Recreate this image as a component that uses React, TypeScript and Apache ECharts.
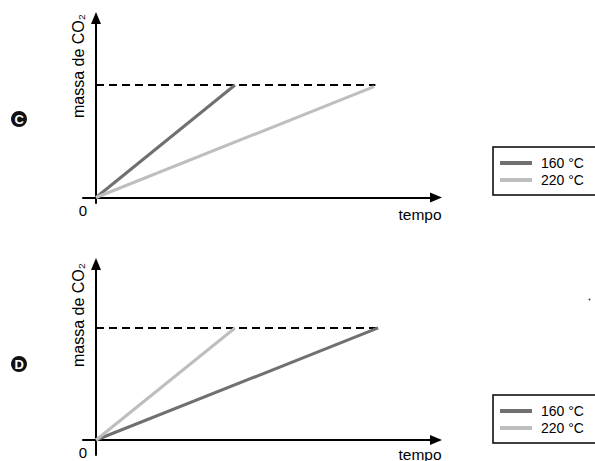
import React, { useEffect, useRef } from "react";
import * as echarts from "echarts";

const seriesNames = ["160 °C", "220 °C"];
const seriesColors = ["#707070", "#bebebe"];
const panelLabels = ["C", "D"];
const yAxisTitle = "massa de CO₂";
const xAxisTitle = "tempo";
const originLabel = "0";

// [tempo, massa de CO2] — panel C
const panelC160 = [[0, 0], [5, 10]];
const panelC220 = [[0, 0], [10, 9.85]];
const panelCPlateau = [[0, 10], [10.05, 10]];
// panel D
const panelD160 = [[0, 0], [10.15, 10]];
const panelD220 = [[0, 0], [5, 10]];
const panelDPlateau = [[0, 10], [10.15, 10]];

const xRange = [-0.468, 12.23];
const yRangeC = [-0.49, 15.96];
const yRangeD = [-1.34, 15.71];

const FONT = "'Liberation Sans', Arial, Helvetica, sans-serif";

function axisLine() {
  return {
    onZero: true,
    lineStyle: { color: "#000", width: 2 },
    symbol: ["none", "triangle"],
    symbolSize: [10, 12],
  };
}

function xAxis(gridIndex: number) {
  return {
    type: "value",
    gridIndex,
    min: xRange[0],
    max: xRange[1],
    axisLine: axisLine(),
    axisTick: { show: false },
    axisLabel: { show: false },
    splitLine: { show: false },
  };
}

function yAxis(gridIndex: number, r: number[]) {
  return {
    type: "value",
    gridIndex,
    min: r[0],
    max: r[1],
    axisLine: axisLine(),
    axisTick: { show: false },
    axisLabel: { show: false },
    splitLine: { show: false },
  };
}

function lineSeries(name: string, color: string, data: number[][], idx: number, width = 3, dashed = false) {
  return {
    type: "line",
    name,
    xAxisIndex: idx,
    yAxisIndex: idx,
    data,
    symbol: "none",
    color,
    silent: true,
    lineStyle: { color, width, type: dashed ? [8, 5] : "solid" },
    z: dashed ? 1 : 3,
  };
}

function legend(top: number) {
  return {
    orient: "vertical",
    left: 493,
    top,
    data: seriesNames,
    icon: "rect",
    itemWidth: 32,
    itemHeight: 4,
    itemGap: 3,
    padding: [9, 70, 8, 7],
    borderColor: "#000",
    borderWidth: 1.5,
    selectedMode: false,
    textStyle: { fontSize: 14, color: "#000", fontFamily: FONT, lineHeight: 14, padding: [0, 0, 0, 4] },
  };
}

function circleLabel(letter: string, cx: number, cy: number) {
  return [
    { type: "circle", shape: { cx, cy, r: 8 }, style: { fill: "#111" } },
    {
      type: "text",
      x: cx + 0.3,
      y: cy + 0.5,
      style: { text: letter, fill: "#fff", font: `bold 13px ${FONT}`, align: "center", verticalAlign: "middle" },
    },
  ];
}

function textEl(text: string, x: number, y: number, size: number, rotation = 0) {
  return {
    type: "text",
    x,
    y,
    rotation,
    style: { text, fill: "#000", font: `${size}px ${FONT}`, align: "center", verticalAlign: "middle" },
  };
}

export default function App() {
  const ref = useRef<HTMLDivElement>(null);
  useEffect(() => {
    if (!ref.current) return;
    const chart = echarts.init(ref.current, null, { renderer: "svg" });
    chart.setOption({
      animation: false,
      backgroundColor: "#fff",
      grid: [
        { left: 83, top: 18, width: 353, height: 185 },
        { left: 83, top: 264, width: 353, height: 191 },
      ],
      xAxis: [xAxis(0), xAxis(1)],
      yAxis: [yAxis(0, yRangeC), yAxis(1, yRangeD)],
      legend: [legend(147), legend(395)],
      series: [
        lineSeries("plateau C", "#000", panelCPlateau, 0, 2, true),
        lineSeries(seriesNames[0], seriesColors[0], panelC160, 0),
        lineSeries(seriesNames[1], seriesColors[1], panelC220, 0),
        lineSeries("plateau D", "#000", panelDPlateau, 1, 2, true),
        lineSeries(seriesNames[0], seriesColors[0], panelD160, 1),
        lineSeries(seriesNames[1], seriesColors[1], panelD220, 1),
      ],
      graphic: [
        ...circleLabel(panelLabels[0], 19, 119),
        ...circleLabel(panelLabels[1], 19, 364),
        textEl(yAxisTitle, 78, 66, 16, Math.PI / 2),
        textEl(yAxisTitle, 78, 315, 16, Math.PI / 2),
        textEl(originLabel, 83, 210.5, 15),
        textEl(originLabel, 83, 452, 15),
        textEl(xAxisTitle, 420, 214, 15.5),
        textEl(xAxisTitle, 420, 454, 15.5),
        { type: "circle", shape: { cx: 589.5, cy: 299.5, r: 0.9 }, style: { fill: "#333" } },
      ],
    });
    return () => chart.dispose();
  }, []);
  return (
    <div
      ref={ref}
      style={{ position: "fixed", left: 0, top: 0, width: 595, height: 461, background: "#fff" }}
    />
  );
}
